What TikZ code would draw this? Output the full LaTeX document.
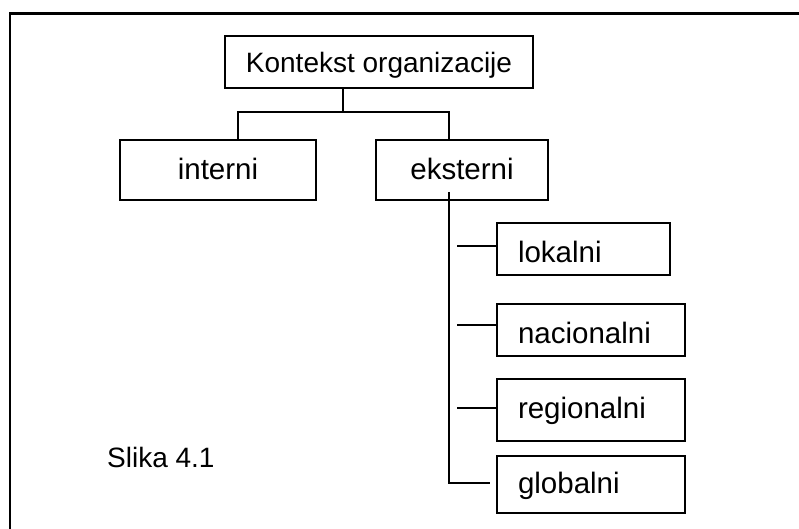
\documentclass[tikz,border=0pt]{standalone}
\usepackage{fontspec}
\setmainfont{Liberation Sans}
\begin{document}
\begin{tikzpicture}[x=1pt,y=-1pt,
  every node/.style={font=\fontsize{29.5}{35}\selectfont},
  small/.style={font=\fontsize{28}{33}\selectfont},
  box/.style={draw, line width=1.3pt, rectangle, inner xsep=0pt, inner ysep=0pt,
    minimum width=#1, text depth=0pt},
  leftbox/.style={box=#1, text width=#1-42pt, inner xsep=21pt, align=left},
  link/.style={line width=1.3pt, line cap=rect},
  frame/.style={line width=2.2pt, line join=miter}]
\useasboundingbox (0,0) rectangle (799,529);

% open frame: left and top edges only
\draw[frame] (10,529) -- (10,13.5) -- (799,13.5);

% tree boxes
\node[box=308pt, small, minimum height=52pt, text height=22pt] (top)  at (379,62)    {Kontekst organizacije};
\node[box=196pt, minimum height=60pt, text height=20pt] (int)  at (218,170)   {interni};
\node[box=172pt, minimum height=60pt, text height=20pt] (ext)  at (462,170)   {eksterni};
\node[leftbox=173pt, minimum height=52pt, text height=26pt] (lok)  at (583.5,249) {lokalni};
\node[leftbox=188pt, minimum height=52pt, text height=26pt] (nac)  at (591,330)   {nacionalni};
\node[leftbox=188pt, minimum height=62pt, text height=16pt] (reg)  at (591,410)   {regionalni};
\node[leftbox=188pt, minimum height=57pt, text height=17pt] (glob) at (591,484.5) {globalni};

\node[small, anchor=base west, inner sep=0pt] (cap) at (107,467) {Slika 4.1};

% first level branching
\coordinate (split)   at (343,112);
\coordinate (intstem) at (238,112);
\coordinate (extstem) at (449,112);
\draw[link] (split |- top.south) -- (split);
\draw[link] (intstem |- int.north) -- (intstem) -- (extstem) -- (extstem |- ext.north);

% trunk under "eksterni"
\coordinate (trunktop) at (449,192);
\coordinate (trunkend) at (449,483);
\draw[link, line cap=butt] (trunktop) -- (trunkend) -- (490,483);

% short ticks towards the sub-boxes
\coordinate (t1) at (457,246);
\coordinate (t2) at (457,325);
\coordinate (t3) at (457,408);
\draw[link, line cap=butt] (t1) -- (t1 -| lok.west);
\draw[link, line cap=butt] (t2) -- (t2 -| nac.west);
\draw[link, line cap=butt] (t3) -- (t3 -| reg.west);
\end{tikzpicture}
\end{document}
